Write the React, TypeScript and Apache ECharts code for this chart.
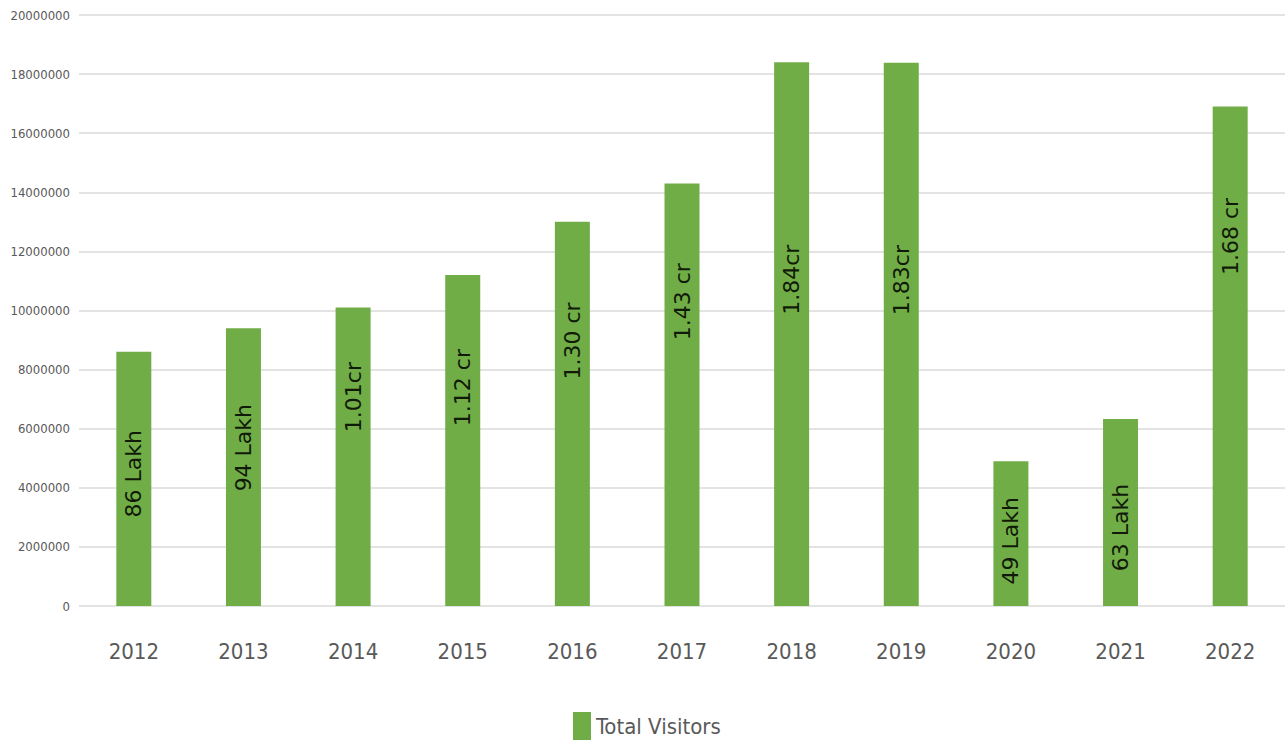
import React, { useEffect, useRef } from "react";
import * as echarts from "echarts";

const years = ["2012", "2013", "2014", "2015", "2016", "2017", "2018", "2019", "2020", "2021", "2022"];
const totalVisitors = [8600000, 9400000, 10100000, 11200000, 13000000, 14300000, 18400000, 18380000, 4900000, 6330000, 16900000];
const barLabels = ["86 Lakh", "94 Lakh", "1.01cr", "1.12 cr", "1.30 cr", "1.43 cr", "1.84cr", "1.83cr", "49 Lakh", "63 Lakh", "1.68 cr"];
// label centre as a fraction of bar height from the top (styling)
const labelPlace = [0.48, 0.43, 0.3, 0.34, 0.31, 0.28, 0.4, 0.4, 0.55, 0.58, 0.26];

const narrow = "'Liberation Sans Narrow', 'DejaVu Sans Condensed', 'Liberation Sans', sans-serif";

export default function App() {
  const ref = useRef<HTMLDivElement>(null);
  useEffect(() => {
    if (!ref.current) return;
    const chart = echarts.init(ref.current, null, { renderer: "svg" });
    chart.setOption({
      animation: false,
      backgroundColor: "#ffffff",
      grid: { left: 79, right: 1, top: 15, bottom: 139, containLabel: false, outerBoundsMode: "none" },
      legend: {
        bottom: 0,
        left: 568,
        icon: "rect",
        itemWidth: 18,
        itemHeight: 28,
        itemGap: 9,
        textStyle: { fontFamily: narrow, fontSize: 22, color: "#595959" },
        data: ["Total Visitors"],
      },
      xAxis: {
        type: "category",
        data: years,
        axisLine: { show: false },
        axisTick: { show: false },
        axisLabel: { margin: 34, fontFamily: narrow, fontSize: 22, color: "#595959" },
      },
      yAxis: {
        type: "value",
        min: 0,
        max: 20000000,
        interval: 2000000,
        axisLine: { show: false },
        axisTick: { show: false },
        axisLabel: {
          margin: 9,
          fontFamily: narrow,
          fontSize: 13,
          color: "#595959",
          formatter: (v: number) => String(v),
        },
        splitLine: { lineStyle: { color: "#e3e3e3", width: 2 } },
      },
      series: [
        {
          name: "Total Visitors",
          type: "bar",
          barWidth: 35,
          itemStyle: { color: "#70AD47" },
          data: totalVisitors.map((v, i) => ({
            value: v,
            label: {
              show: true,
              formatter: barLabels[i],
              position: ["50%", `${labelPlace[i] * 100}%`],
              rotate: 90,
              align: "center",
              verticalAlign: "middle",
              fontFamily: "'DejaVu Sans', sans-serif",
              fontSize: 22,
              color: "#111a08",
            },
          })),
        },
      ],
    });
    return () => chart.dispose();
  }, []);
  return <div ref={ref} style={{ position: "fixed", left: 0, top: 0, width: 1286, height: 745 }} />;
}
